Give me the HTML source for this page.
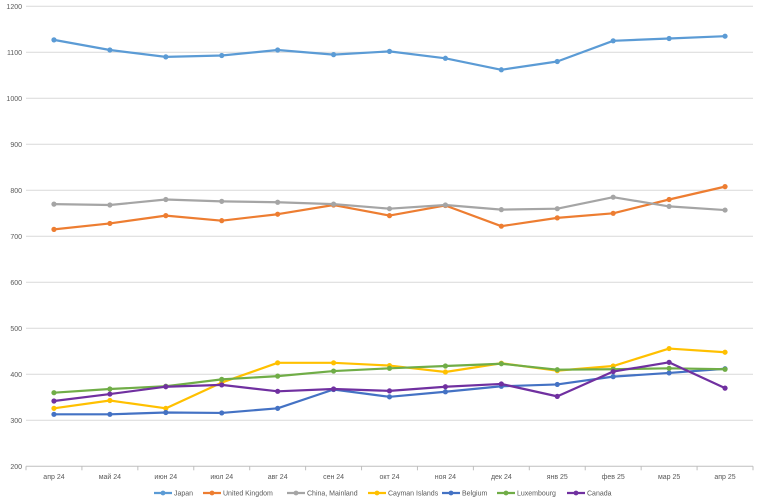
<!DOCTYPE html>
<html><head><meta charset="utf-8"><style>
body{margin:0;background:#fff;font-family:"Liberation Sans",sans-serif}
</style></head><body>
<svg id="c" width="758" height="499" xmlns="http://www.w3.org/2000/svg"></svg>
<script>
const categories=["апр 24","май 24","июн 24","июл 24","авг 24","сен 24","окт 24","ноя 24","дек 24","янв 25","фев 25","мар 25","апр 25"];
const yTicks=[200,300,400,500,600,700,800,900,1000,1100,1200];
const seriesNames=["Japan","United Kingdom","China, Mainland","Cayman Islands","Belgium","Luxembourg","Canada"];
const seriesColors=["#5b9bd5","#ed7d31","#a5a5a5","#ffc000","#4472c4","#70ad47","#7030a0"];
const japan=[1127,1105,1090,1093,1105,1095,1102,1087,1062,1080,1125,1130,1135];
const uk=[715,728,745,734,748,768,745,767,722,740,750,780,808];
const china=[770,768,780,776,774,770,760,768,758,760,785,765,757];
const cayman=[326,343,326,382,425,425,419,405,424,408,418,456,448];
const belgium=[313,313,317,316,326,367,351,362,374,378,395,403,412];
const luxembourg=[360,368,374,389,396,407,413,418,423,410,411,413,411];
const canada=[342,357,373,377,363,368,364,373,379,352,406,426,370];
const seriesData=[japan,uk,china,cayman,belgium,luxembourg,canada];
const svg=document.getElementById('c');const NS="http://www.w3.org/2000/svg";
const L=26,R=753,T=6.3,B=466.3;
const x=i=>L+(R-L)/categories.length*(i+0.5);
const y=v=>B-(v-200)/1000*(B-T);
function mk(t,a,p){const e=document.createElementNS(NS,t);for(const k in a)e.setAttribute(k,a[k]);(p||svg).appendChild(e);return e;}
yTicks.forEach(v=>{
 const g=mk('line',{x1:L,x2:R,y1:y(v),y2:y(v),stroke:v===200?'#bfbfbf':'#d9d9d9','stroke-width':1});
 
 
 const t=mk('text',{x:22,y:y(v)+2.5,'text-anchor':'end','font-size':7,fill:'#595959'});t.textContent=v;
 
 
});
categories.forEach((c,i)=>{
 const tk=mk('line',{x1:L+(R-L)/13*i,x2:L+(R-L)/13*i,y1:B,y2:B+4,stroke:'#bfbfbf'});
 
 
 const t=mk('text',{x:x(i),y:479,'text-anchor':'middle','font-size':7,fill:'#595959'});t.textContent=c;
 
 
});
mk('line',{x1:R,x2:R,y1:B,y2:B+4,stroke:'#bfbfbf'});
seriesData.forEach((d,s)=>{
 const g=mk('g',{});
 
 
 mk('polyline',{points:d.map((v,i)=>x(i)+','+y(v)).join(' '),fill:'none',stroke:seriesColors[s],'stroke-width':2.2,'stroke-linejoin':'round'},g);
 d.forEach((v,i)=>{const p=mk('circle',{cx:x(i),cy:y(v),r:2.6,fill:seriesColors[s]},g);
  
  });
});
const lx=[154,203,287,368,442,497,567];
seriesNames.forEach((n,s)=>{
 const g=mk('g',{});
 
 
 const X=lx[s];
 mk('line',{x1:X,x2:X+18,y1:493,y2:493,stroke:seriesColors[s],'stroke-width':2.2},g);
 mk('circle',{cx:X+9,cy:493,r:2.4,fill:seriesColors[s]},g);
 const t=mk('text',{x:X+20,y:495.5,'font-size':7,fill:'#595959'},g);t.textContent=n;
});
</script>
</body></html>
